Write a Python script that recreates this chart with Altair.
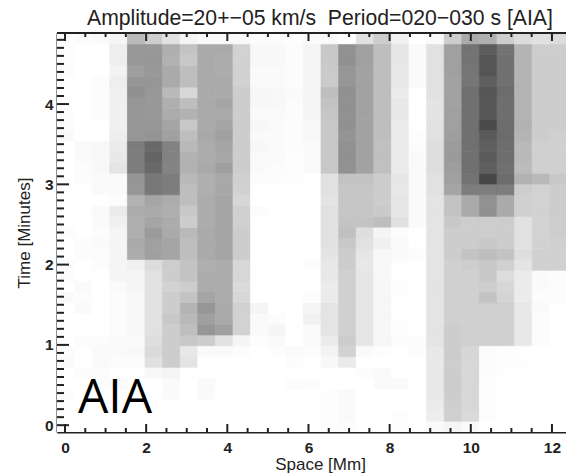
import altair as alt
import pandas as pd

TITLE = "Amplitude=20+\u221205 km/s\u00a0\u00a0Period=020\u2212030 s [AIA]"
X_MAJOR = [0, 2, 4, 6, 8, 10, 12]
X_MINOR = [0.5, 1, 1.5, 2.5, 3, 3.5, 4.5, 5, 5.5, 6.5, 7, 7.5, 8.5, 9, 9.5, 10.5, 11, 11.5]
Y_MAJOR = [0, 1, 2, 3, 4]
Y_MINOR = [0.1, 0.2, 0.3, 0.4, 0.5, 0.6, 0.7, 0.8, 0.9, 1.1, 1.2, 1.3, 1.4, 1.5, 1.6, 1.7, 1.8, 1.9,
           2.1, 2.2, 2.3, 2.4, 2.5, 2.6, 2.7, 2.8, 2.9, 3.1, 3.2, 3.3, 3.4, 3.5, 3.6, 3.7, 3.8, 3.9,
           4.1, 4.2, 4.3, 4.4, 4.5, 4.6, 4.7, 4.8]

# grey level of each cell, one list per row, column 0 .. 29
r36 = [255,252,250,245,185,205,225,245,250,250,250,252,252,253,250,250,255,225,205,240,255,250,205,170,175,205,220,225,220,215]
r35 = [253,255,255,238,152,152,175,195,170,170,210,248,248,252,245,200,145,160,190,230,250,225,160,115,92,115,180,205,205,200]
r34 = [253,255,255,238,152,150,178,200,170,172,210,248,248,252,245,200,145,160,190,230,250,225,160,115,85,112,180,205,205,200]
r33 = [252,255,255,243,158,152,170,190,170,172,210,250,250,252,245,202,150,162,190,232,250,225,160,118,85,112,180,205,205,202]
r32 = [255,255,252,238,150,150,170,190,170,170,210,250,250,252,245,202,150,162,190,232,250,225,162,118,95,112,180,205,205,202]
r31 = [255,255,252,240,145,152,185,215,170,170,205,247,248,250,245,190,145,162,190,235,255,225,162,112,85,108,180,205,205,202]
r30 = [255,255,252,240,150,152,175,190,170,165,205,247,248,252,245,195,145,162,190,232,255,228,162,112,88,110,180,205,205,202]
r29 = [252,255,252,240,150,152,172,178,170,170,205,250,250,252,245,198,145,162,190,232,255,228,160,112,88,110,180,205,205,205]
r28 = [252,255,255,240,150,150,165,200,170,165,205,247,250,252,248,200,145,162,190,235,255,225,160,112,75,108,178,205,205,205]
r27 = [250,255,255,238,150,148,160,190,168,160,205,250,250,252,248,200,148,162,190,235,253,225,158,112,90,108,180,205,208,208]
r26 = [255,250,248,235,125,105,130,185,172,165,205,247,250,252,250,200,145,162,192,235,252,222,155,112,95,110,185,208,208,208]
r25 = [255,250,248,233,125,100,130,178,172,168,205,250,250,253,250,200,145,162,192,235,250,222,155,112,90,110,185,208,208,208]
r24 = [255,252,248,228,125,105,132,178,170,160,205,250,252,253,250,200,145,162,192,235,250,222,158,112,95,112,188,208,208,208]
r23 = [255,252,250,250,150,120,125,185,175,168,208,252,252,253,255,225,195,195,205,230,250,225,160,115,72,108,178,185,200,205]
r22 = [255,255,250,250,150,120,125,190,175,168,210,255,255,255,255,225,198,198,205,232,250,225,165,125,125,125,205,210,205,208]
r21 = [255,255,255,252,178,165,172,190,172,165,215,255,255,255,255,228,198,198,205,230,250,228,195,170,145,170,208,210,205,205]
r20 = [255,255,250,235,172,170,175,200,172,165,208,252,255,255,255,225,198,198,202,230,250,228,195,170,145,170,208,210,205,205]
r19 = [255,255,250,240,175,165,172,205,172,165,208,255,255,255,255,225,195,195,190,225,250,228,200,205,205,205,225,210,205,205]
r18 = [252,255,252,245,175,155,170,185,170,165,205,255,255,255,255,225,192,222,245,252,255,228,205,205,205,205,225,210,205,205]
r17 = [255,252,250,245,170,160,165,190,170,165,205,255,255,255,255,225,200,225,240,250,255,228,205,205,200,205,225,210,208,205]
r16 = [255,252,252,245,172,160,165,190,170,165,205,255,255,255,255,228,205,230,248,250,252,228,205,195,190,195,222,208,208,205]
r15 = [252,255,252,245,240,220,205,195,175,172,215,255,255,255,252,232,205,232,248,254,254,228,208,205,200,208,228,208,208,205]
r14 = [252,255,255,245,245,225,205,195,172,172,215,255,255,255,255,232,208,230,248,254,255,228,208,208,200,220,235,250,252,248]
r13 = [255,250,255,250,245,225,210,205,172,172,218,255,255,255,255,235,208,230,247,254,255,228,208,208,205,215,235,250,252,250]
r12 = [250,252,255,252,248,225,205,195,165,172,215,255,255,255,252,235,208,230,247,254,255,228,208,208,195,212,235,252,252,250]
r11 = [255,250,255,252,248,225,205,180,150,170,210,245,255,255,245,228,208,230,247,254,255,228,208,208,208,208,232,250,255,250]
r10 = [255,255,255,252,248,225,200,185,160,170,210,250,252,255,240,228,208,230,247,254,255,228,208,208,208,208,232,252,255,250]
r09 = [255,255,255,252,248,225,205,190,150,160,210,250,245,255,250,228,208,230,247,254,255,228,205,208,208,208,232,252,255,252]
r08 = [255,252,252,250,250,222,205,200,205,225,245,253,250,255,250,235,205,230,247,252,252,228,205,208,208,208,232,252,255,252]
r07 = [252,255,250,250,248,218,205,232,250,250,252,255,253,250,253,243,210,250,253,255,252,232,205,215,252,253,254,255,255,254]
r06 = [250,255,250,252,252,225,205,228,255,255,255,255,255,252,255,248,235,255,255,255,255,232,205,215,252,254,254,255,255,254]
r05 = [255,252,252,255,255,248,245,255,255,255,255,255,255,255,255,255,255,252,250,255,255,232,205,215,252,254,255,255,255,254]
r04 = [255,255,252,250,255,255,250,255,250,255,255,255,255,252,252,255,255,255,250,250,255,232,205,215,253,255,255,255,255,254]
r03 = [252,255,255,255,255,255,250,255,250,255,255,255,255,255,255,253,250,255,255,255,255,232,205,215,253,255,255,255,255,255]
r02 = [255,255,255,255,255,255,255,255,255,255,255,255,255,255,255,253,250,255,255,255,255,235,207,215,253,255,255,255,255,255]
r01 = [255,255,255,255,255,255,255,255,255,255,255,255,255,255,255,253,250,255,255,253,255,238,207,218,253,255,255,255,255,255]
r00 = [255,255,255,255,255,255,255,255,255,255,255,255,255,255,255,253,252,255,255,253,255,250,245,250,255,255,255,255,255,255]

rows = [r00, r01, r02, r03, r04, r05, r06, r07, r08, r09, r10, r11, r12, r13, r14, r15, r16, r17, r18,
        r19, r20, r21, r22, r23, r24, r25, r26, r27, r28, r29, r30, r31, r32, r33, r34, r35, r36]

X_MIN, X_MAX = -0.197, 12.346
Y_MIN, Y_MAX = -0.085, 4.885
CELL_W, CELL_H = 0.4337, 0.1343
W, H = 509, 399

cells = []
for j, row in enumerate(rows):
    for i, g in enumerate(row):
        cells.append({"x": X_MIN + i * CELL_W, "x2": X_MIN + (i + 1) * CELL_W,
                      "y": Y_MIN + j * CELL_H, "y2": Y_MIN + (j + 1) * CELL_H, "g": g})
df = pd.DataFrame(cells)

xs = alt.Scale(domain=[X_MIN, X_MAX], nice=False, zero=False)
ys = alt.Scale(domain=[Y_MIN, Y_MAX], nice=False, zero=False)
gs = alt.Scale(domain=[0, 255], range=["#000000", "#ffffff"], interpolate="rgb")
INK = "#222222"

heat = alt.Chart(df).mark_rect(clip=True, strokeWidth=0.7).encode(
    x=alt.X("x:Q", scale=xs, axis=alt.Axis(
        values=X_MAJOR, format="d", title="Space [Mm]", grid=False, ticks=False, domainColor=INK, domainWidth=2,
        labelFont="Liberation Sans", labelFontWeight="bold", labelFontSize=15.5, labelColor=INK, labelPadding=8,
        titleFont="Liberation Sans", titleFontWeight="normal", titleFontSize=17, titleColor=INK, titlePadding=1,
        titleX=263)),
    x2="x2:Q",
    y=alt.Y("y:Q", scale=ys, axis=alt.Axis(
        values=Y_MAJOR, format="d", title="Time [Minutes]", grid=False, ticks=False, domainColor=INK, domainWidth=2,
        labelFont="Liberation Sans", labelFontWeight="bold", labelFontSize=15.5, labelColor=INK, labelPadding=4,
        titleFont="Liberation Sans", titleFontWeight="normal", titleFontSize=17, titleColor=INK, titlePadding=11)),
    y2="y2:Q",
    color=alt.Color("g:Q", legend=None, scale=gs),
    stroke=alt.Stroke("g:Q", legend=None, scale=gs),
)

def xticks(vals, start, stop):
    return alt.Chart(pd.DataFrame({"v": vals})).mark_rule(color=INK, strokeWidth=2).encode(
        x=alt.X("v:Q", scale=xs), y=alt.value(start), y2=alt.value(stop))

def yticks(vals, start, stop):
    return alt.Chart(pd.DataFrame({"v": vals})).mark_rule(color=INK, strokeWidth=2).encode(
        y=alt.Y("v:Q", scale=ys), x=alt.value(start), x2=alt.value(stop))

top_line = alt.Chart(pd.DataFrame({"a": [0]})).mark_rule(color=INK, strokeWidth=2).encode(
    x=alt.value(0), x2=alt.value(W), y=alt.value(0))

ticks = [
    xticks(X_MAJOR, H, H - 8), xticks(X_MINOR, H, H - 4),
    xticks(X_MAJOR, 0, 8), xticks(X_MINOR, 0, 4),
    yticks(Y_MAJOR, 0, 12), yticks(Y_MINOR, 0, 7),
]

label = alt.Chart(pd.DataFrame({"x": [0.32], "y": [0.15], "t": ["AIA"]})).mark_text(
    align="left", baseline="alphabetic", font="Open Sans", fontSize=48, color="#000000"
).encode(x=alt.X("x:Q", scale=xs), y=alt.Y("y:Q", scale=ys), text="t:N")

title = alt.Chart(pd.DataFrame({"t": [TITLE]})).mark_text(
    align="left", baseline="alphabetic", font="Liberation Sans", fontSize=21.2, color=INK
).encode(x=alt.value(30), y=alt.value(-8), text="t:N")

chart = alt.layer(heat, top_line, *ticks, label, title).properties(
    width=W, height=H,
    padding={"left": 49, "top": 25, "right": 0, "bottom": 43},
    autosize=alt.AutoSizeParams(type="none"),
).configure_view(stroke=None)

chart.save("out.html", embed_options={"renderer": "svg", "actions": False})
